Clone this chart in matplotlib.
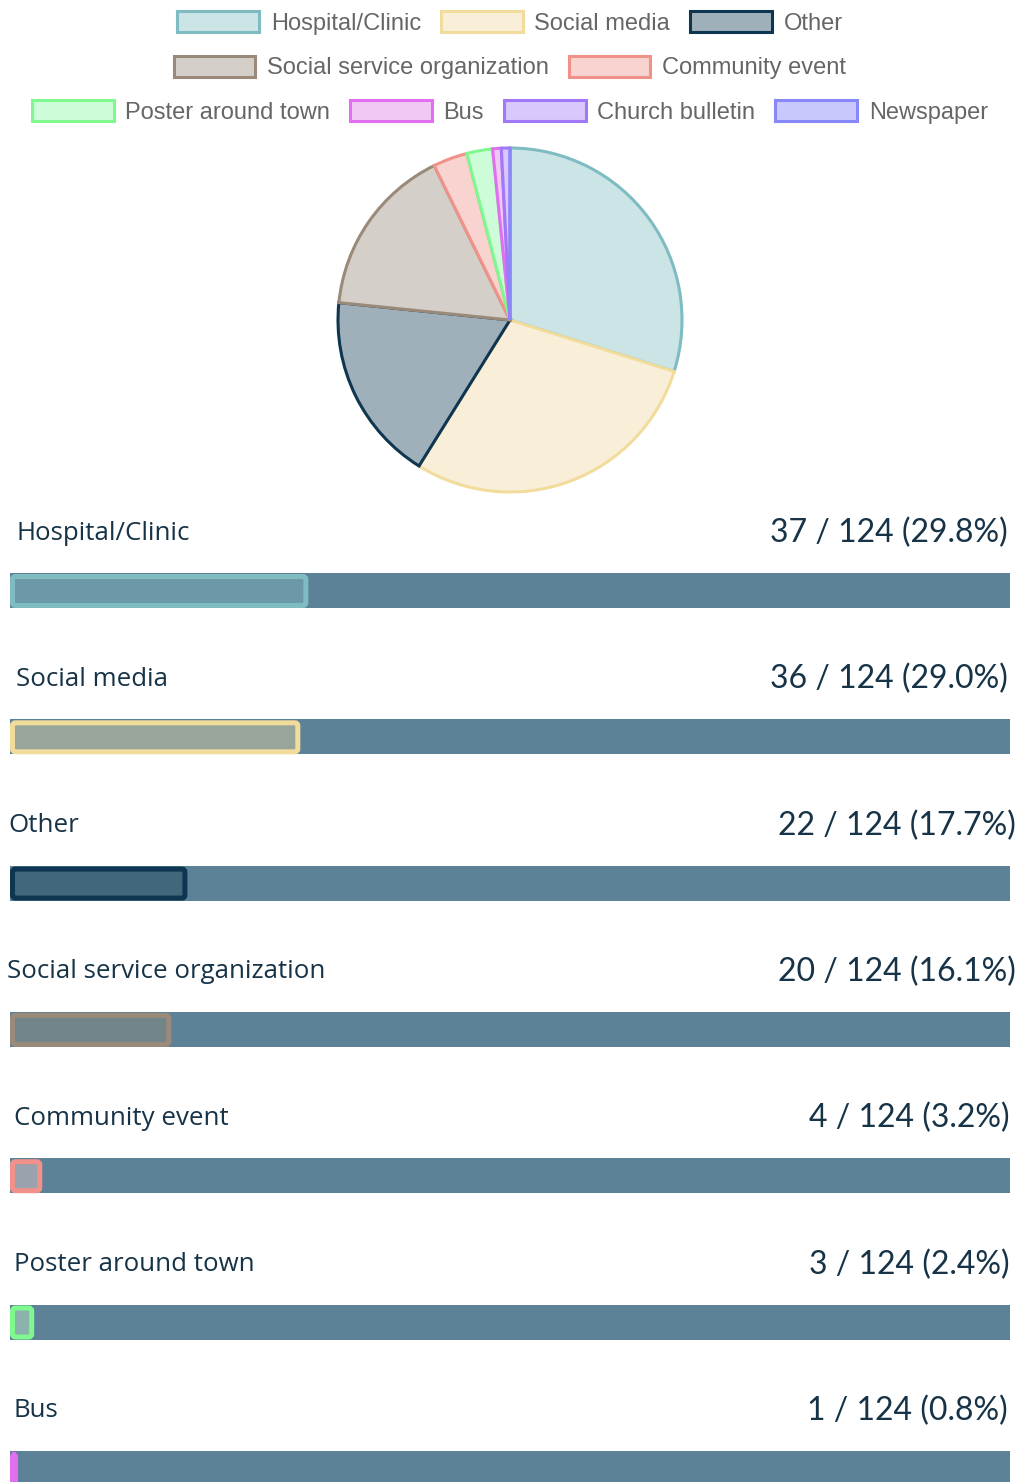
import matplotlib
matplotlib.use("Agg")
import matplotlib.pyplot as plt
from matplotlib.patches import Patch, Rectangle, FancyBboxPatch

# Survey responses: where people heard about the program
categories = ["Hospital/Clinic", "Social media", "Other", "Social service organization",
              "Community event", "Poster around town", "Bus", "Church bulletin", "Newspaper"]
counts = [37, 36, 22, 20, 4, 3, 1, 1, 0]
total = 124

# Colours per category
edge_colors = ["#7fbcc2", "#f2dc9c", "#0f3650", "#9a8a7a", "#f0928a",
               "#80f890", "#e070f0", "#a078f8", "#8888f8"]
fill_colors = ["#cbe4e6", "#f9efd8", "#a0b0bb", "#d5cfca", "#f8d3d0",
               "#cdfdd8", "#f0c8f4", "#d8c8fc", "#c8c8fc"]
bar_inner_colors = ["#6b99a8", "#98a59a", "#43677a", "#728689", "#9aa3ad",
                    "#8ab3ab", "#b08cc8", "#9a96c8", "#9a9ac8"]
legend_rows = [[0, 1, 2], [3, 4], [5, 6, 7, 8]]

W, H = 1021, 1482
TRACK = "#5d8196"
TEXT = "#163347"

fig = plt.figure(figsize=(W / 100, H / 100), dpi=100)
fig.patch.set_facecolor("white")

# ---- legend (three centred rows) ----
for r, row in enumerate(legend_rows):
    handles = [Patch(facecolor=fill_colors[i], edgecolor=edge_colors[i], linewidth=2.2)
               for i in row]
    labels = [categories[i] for i in row]
    yc = 23 + 44.5 * r
    fig.legend(handles, labels, loc="center", bbox_to_anchor=(0.4995, 1 - yc / H),
               ncol=len(row), frameon=False, borderpad=0, borderaxespad=0,
               handlelength=3.45, handleheight=1.0, handletextpad=0.5,
               columnspacing=0.85,
               prop={"family": "Liberation Sans", "size": 17}, labelcolor="#666666")

# ---- pie ----
cx, cy, rad = 510, 320, 172
half = 185
pax = fig.add_axes([(cx - half) / W, 1 - (cy + half) / H, 2 * half / W, 2 * half / H])
wedges, _ = pax.pie(counts, colors=fill_colors, startangle=90, counterclock=False,
                    radius=1.0, wedgeprops={"linewidth": 2.2, "joinstyle": "miter"})
for w, ec in zip(wedges, edge_colors):
    w.set_edgecolor(ec)
lim = half / rad
pax.set_xlim(-lim, lim)
pax.set_ylim(-lim, lim)
pax.set_aspect("equal")
pax.axis("off")

# ---- progress bars ----
x0_px, track_w = 10, 1000
bax = fig.add_axes([x0_px / W, 0, track_w / W, 1])
bax.set_xlim(0, total)
bax.set_ylim(H, 0)
bax.axis("off")
ppu = track_w / total          # pixels per count
border_px = 5
inset = border_px / 2

label_x = [16, 16, 8, 7, 14, 14, 14, 14, 14]
count_right = [1008, 1008, 1016, 1016, 1010, 1010, 1008, 1008, 1008]

pitch = 146.3
for i, (name, c) in enumerate(zip(categories, counts)):
    top = 573 + pitch * i
    yc = top - 41
    if yc > H:
        break          # remaining rows fall below the visible page
    bax.add_patch(Rectangle((0, top), total, 35, facecolor=TRACK, linewidth=0))
    if c > 0:
        wdt = max(c - 2 * inset / ppu, 0.5 / ppu)
        bax.add_patch(FancyBboxPatch(
            (inset / ppu, top + 1 + inset), wdt, 34 - border_px,
            boxstyle=f"round,pad=0,rounding_size={3 / ppu}", mutation_aspect=ppu,
            facecolor=bar_inner_colors[i], edgecolor=edge_colors[i],
            linewidth=border_px * 0.72))
    fig.text(label_x[i] / W, 1 - (yc + 1) / H, name, ha="left", va="center",
             fontsize=18.6, family="Open Sans", color=TEXT)
    fig.text(count_right[i] / W, 1 - (yc + 1) / H,
             f"{c} / {total} ({c / total * 100:.1f}%)", ha="right", va="center",
             fontsize=23, family="Lato", color=TEXT)

fig.savefig("out.png", dpi=100, facecolor="white")
